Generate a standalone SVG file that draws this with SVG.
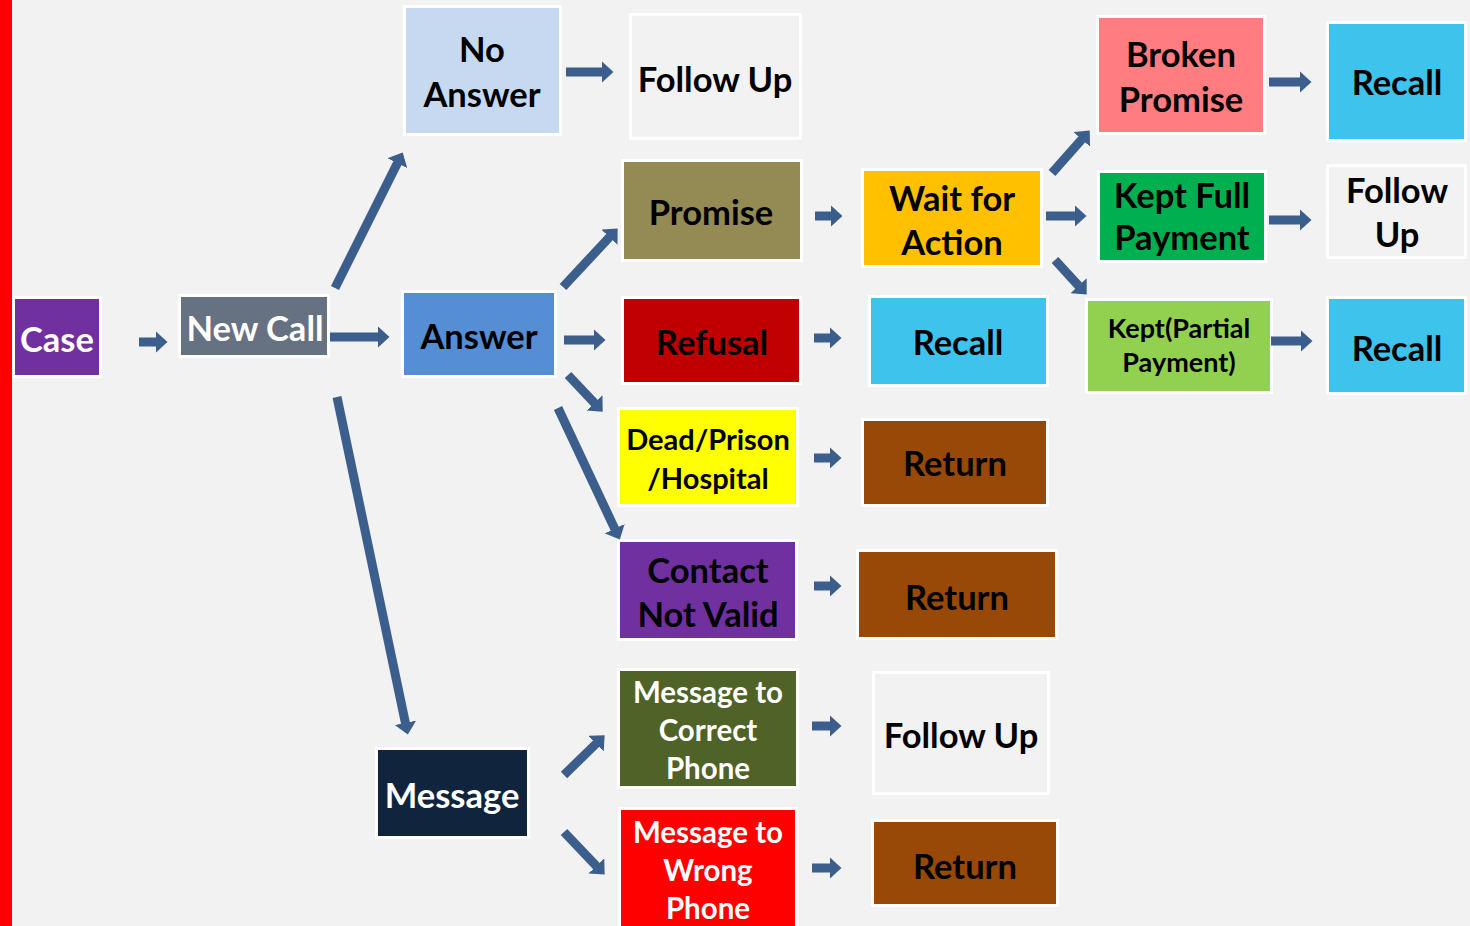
<svg xmlns="http://www.w3.org/2000/svg" width="1470" height="926" viewBox="0 0 1470 926">
<style>
.b{stroke:#ffffff;stroke-width:3}
.t{font-family:Lato,"Open Sans","Liberation Sans",sans-serif;font-weight:700;text-anchor:middle;fill:#000000}
.w{fill:#ffffff}
.s32{font-size:34.5px}
.s28{font-size:29.5px}
.s26{font-size:29px}
.s24{font-size:27px}
.arr line{stroke:#3b5e8c;stroke-width:9;marker-end:url(#ah)}
</style>
<defs>
<marker id="ah" viewBox="0 0 12 22" markerWidth="12" markerHeight="22" refX="0.5" refY="11" orient="auto" markerUnits="userSpaceOnUse">
<path d="M0,0 L12,11 L0,22 Z" fill="#3b5e8c"/>
</marker>
</defs>
<rect width="1470" height="926" fill="#f2f2f2"/>
<rect x="0" y="0" width="12" height="926" fill="#ff0000"/>

<g id="case"><rect class="b" x="13.5" y="297.5" width="87" height="79" fill="#7030a0"/><text class="t w s32" x="57" y="352">Case</text></g>
<g id="newcall"><rect class="b" x="179.5" y="295.5" width="149" height="61" fill="#667181"/><text class="t w s32" x="255" y="341">New Call</text></g>
<g id="noanswer"><rect class="b" x="404.5" y="6.5" width="156" height="128" fill="#c6d9f0"/><text class="t s32" x="482" y="62">No</text><text class="t s32" x="482" y="107">Answer</text></g>
<g id="followup1"><rect class="b" x="630.5" y="14.5" width="170" height="124" fill="#f2f2f2"/><text class="t s32" x="715" y="92">Follow Up</text></g>
<g id="promise"><rect class="b" x="622.5" y="160.5" width="179" height="100" fill="#948a54"/><text class="t s32" x="711" y="225">Promise</text></g>
<g id="answer"><rect class="b" x="402.5" y="291.5" width="153" height="85" fill="#558ed5"/><text class="t s32" x="479" y="349">Answer</text></g>
<g id="refusal"><rect class="b" x="622.5" y="297.5" width="178" height="86" fill="#c00000"/><text class="t s32" x="712" y="355">Refusal</text></g>
<g id="recall1"><rect class="b" x="869.5" y="296.5" width="178" height="89" fill="#3ec3ec"/><text class="t s32" x="958" y="355">Recall</text></g>
<g id="dead"><rect class="b" x="618.5" y="408.5" width="179" height="97" fill="#ffff00"/><text class="t s26" x="708" y="450">Dead/Prison</text><text class="t s26" x="708" y="489">/Hospital</text></g>
<g id="return1"><rect class="b" x="862.5" y="419.5" width="185" height="86" fill="#984807"/><text class="t s32" x="955" y="476">Return</text></g>
<g id="contact"><rect class="b" x="618.5" y="540.5" width="178" height="99" fill="#7030a0"/><text class="t s32" x="708" y="583">Contact</text><text class="t s32" x="708" y="627">Not Valid</text></g>
<g id="return2"><rect class="b" x="857.5" y="550.5" width="199" height="88" fill="#984807"/><text class="t s32" x="957" y="610">Return</text></g>
<g id="message"><rect class="b" x="376.5" y="748.5" width="152" height="89" fill="#10243e"/><text class="t w s32" x="452" y="808">Message</text></g>
<g id="msgcorrect"><rect class="b" x="618.5" y="669.5" width="179" height="118" fill="#4f6228"/><text class="t w s28" x="708" y="703">Message to</text><text class="t w s28" x="708" y="741">Correct</text><text class="t w s28" x="708" y="779">Phone</text></g>
<g id="followup2"><rect class="b" x="873.5" y="672.5" width="175" height="121" fill="#f2f2f2"/><text class="t s32" x="961" y="748">Follow Up</text></g>
<g id="msgwrong"><rect class="b" x="619.5" y="808.5" width="177" height="125" fill="#ff0000"/><text class="t w s28" x="708" y="843">Message to</text><text class="t w s28" x="708" y="881">Wrong</text><text class="t w s28" x="708" y="919">Phone</text></g>
<g id="return3"><rect class="b" x="872.5" y="820.5" width="185" height="85" fill="#984807"/><text class="t s32" x="965" y="879">Return</text></g>
<g id="wait"><rect class="b" x="862.5" y="169.5" width="179" height="97" fill="#ffc000"/><text class="t s32" x="952" y="211">Wait for</text><text class="t s32" x="952" y="255">Action</text></g>
<g id="broken"><rect class="b" x="1097.5" y="16.5" width="167" height="117" fill="#ff7c80"/><text class="t s32" x="1181" y="67">Broken</text><text class="t s32" x="1181" y="112">Promise</text></g>
<g id="recall2"><rect class="b" x="1327.5" y="22.5" width="138" height="118" fill="#3ec3ec"/><text class="t s32" x="1397" y="95">Recall</text></g>
<g id="keptfull"><rect class="b" x="1098.5" y="171.5" width="167" height="90" fill="#00b050"/><text class="t s32" x="1182" y="208">Kept Full</text><text class="t s32" x="1182" y="250">Payment</text></g>
<g id="followup3"><rect class="b" x="1327.5" y="165.5" width="138" height="92" fill="#f2f2f2"/><text class="t s32" x="1397" y="203">Follow</text><text class="t s32" x="1397" y="247">Up</text></g>
<g id="keptpartial"><rect class="b" x="1086.5" y="299.5" width="185" height="93" fill="#92d050"/><text class="t s24" x="1179" y="338">Kept(Partial</text><text class="t s24" x="1179" y="372">Payment)</text></g>
<g id="recall3"><rect class="b" x="1327.5" y="297.5" width="138" height="96" fill="#3ec3ec"/><text class="t s32" x="1397" y="361">Recall</text></g>

<g id="connectors" class="arr">
<line x1="139" y1="342" x2="156" y2="342"/>
<line x1="330" y1="337" x2="378" y2="337"/>
<line x1="335" y1="288" x2="397.6" y2="162.7"/>
<line x1="337" y1="397" x2="405.5" y2="723.3"/>
<line x1="566" y1="72" x2="602" y2="72"/>
<line x1="563" y1="287" x2="609.8" y2="236.8"/>
<line x1="564" y1="340" x2="594" y2="340"/>
<line x1="568" y1="375" x2="594.8" y2="403.3"/>
<line x1="558" y1="408" x2="614.9" y2="529.1"/>
<line x1="815" y1="216" x2="831" y2="216"/>
<line x1="814" y1="338" x2="830" y2="338"/>
<line x1="814" y1="458" x2="830" y2="458"/>
<line x1="814" y1="586" x2="830" y2="586"/>
<line x1="812" y1="726" x2="830" y2="726"/>
<line x1="812" y1="868" x2="830" y2="868"/>
<line x1="564" y1="775" x2="596.4" y2="743.4"/>
<line x1="564" y1="832" x2="596.7" y2="866.3"/>
<line x1="1052" y1="173" x2="1082.1" y2="139"/>
<line x1="1046" y1="216" x2="1075" y2="216"/>
<line x1="1055" y1="260" x2="1078.9" y2="286.1"/>
<line x1="1269" y1="82" x2="1300" y2="82"/>
<line x1="1269" y1="220" x2="1300" y2="220"/>
<line x1="1271" y1="341" x2="1301" y2="341"/>
</g>
</svg>
